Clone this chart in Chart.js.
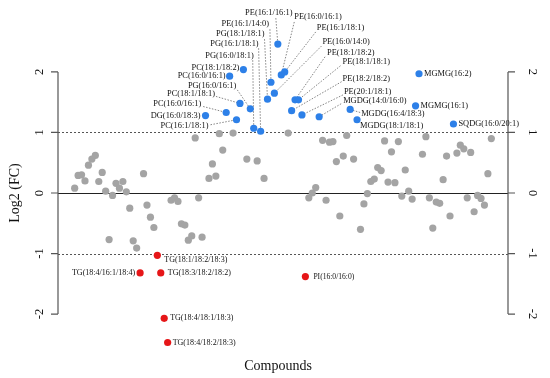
<!DOCTYPE html>
<html>
<head>
<meta charset="utf-8">
<title>Log2 (FC)</title>
<script src="https://cdn.jsdelivr.net/npm/chart.js@4.4.1/dist/chart.umd.min.js"></script>
<style>
    html, body { margin: 0; padding: 0; background: #fff; }
    #wrap { width: 550px; height: 378px; }
</style>
</head>
<body>
<div id="wrap"><canvas id="volcano" width="550" height="378"></canvas></div>
<script>
"use strict";

// log2 fold change per compound, compound 1..122 left to right
const log2fc = [
    0.08, 0.29, 0.30, 0.20, 0.46, 0.56, 0.62, 0.19, 0.34, 0.03,
    -0.77, -0.04, 0.16, 0.08, 0.19, 0.02, -0.25, -0.79, -0.91, -1.32,
    0.32, -0.20, -0.40, -0.57, -1.03, -1.32, -2.07, -2.47, -0.12, -0.08,
    -0.14, -0.51, -0.53, -0.78, -0.71, 0.91, -0.08, -0.73, 1.28, 0.24,
    0.48, 0.28, 0.98, 0.71, 1.33, 1.93, 0.99, 1.21, 1.48, 2.04,
    0.56, 1.39, 1.07, 0.53, 1.02, 0.24, 1.55, 1.83, 1.65, 2.46,
    1.95, 2.00, 0.99, 1.36, 1.54, 1.54, 1.29, -1.38, -0.08, 0.00,
    0.09, 1.26, 0.87, -0.12, 0.84, 0.85, 0.52, -0.38, 0.61, 0.95,
    1.38, 0.56, 1.21, -0.60, -0.18, -0.01, 0.19, 0.23, 0.42, 0.37,
    0.86, 0.18, 0.68, 0.17, 0.85, -0.05, 0.38, 0.03, -0.10, 1.44,
    1.97, 0.64, 0.93, -0.08, -0.58, -0.15, -0.17, 0.22, 0.61, -0.38,
    1.14, 0.66, 0.79, 0.73, -0.08, 0.67, -0.31, -0.04, -0.09, -0.20,
    0.32, 0.90
];

// compounds that get a name in the plot
const labelIdx = [60, 58, 57, 55, 53, 50, 46, 52, 49, 45, 39, 48,
    61, 62, 59, 65, 66, 64, 67, 72, 81, 83, 101, 100, 111,
    25, 20, 26, 68, 27, 28];
const labelNames = [
    "PE(16:1/16:1)", "PE(16:1/14:0)", "PG(18:1/18:1)", "PG(16:1/18:1)", "PG(16:0/18:1)",
    "PC(18:1/18:2)", "PC(16:0/16:1)", "PG(16:0/16:1)", "PC(18:1/18:1)", "PC(16:0/16:1)",
    "DG(16:0/18:3)", "PC(16:1/18:1)",
    "PE(16:0/16:1)", "PE(16:1/18:1)", "PE(16:0/14:0)", "PE(18:1/18:2)", "PE(18:1/18:1)",
    "PE(18:2/18:2)", "PE(20:1/18:1)", "MGDG(14:0/16:0)", "MGDG(16:4/18:3)", "MGDG(18:1/18:1)",
    "MGMG(16:2)", "MGMG(16:1)", "SQDG(16:0/20:1)",
    "TG(18:1/18:2/18:3)", "TG(18:4/16:1/18:4)", "TG(18:3/18:2/18:2)", "PI(16:0/16:0)",
    "TG(18:4/18:1/18:3)", "TG(18:4/18:2/18:3)"
];

const yTicks = [-2, -1, 0, 1, 2];
const thresholds = [-1, 1];
const xTitle = "Compounds";
const yTitle = "Log2 (FC)";

// label placement, pixels from the point: [dx, dy, align, leader dx, leader dy]
const labelLayout = [
    [-9, -31, "center", -2, -26], [-2, -58, "right", -1, -53], [-3, -65, "right", -3, -60],
    [-2, -87, "right", -2, -83], [0, -72, "right", -1, -68], [-4, -2, "right"],
    [-4, 0, "right"], [-14, -23, "right", -13, -19], [-25, -10, "right", -24, -7],
    [-25, -9, "right", -23, -6], [-5, 0, "right"], [-28, 6, "right", -26, 5],
    [13, -58, "left", 13, -53], [32, -44, "left", 31, -40], [48, -51, "left", 47, -47],
    [32, -47, "left", 30, -43], [44, -38, "left", 42, -34], [51, -32, "left", 50, -29],
    [42, -23, "left", 41, -20], [24, -16, "left", 22, -13], [11, 4, "left", 10, 3],
    [3, 6, "left"], [5, 0, "left"], [5, 0, "left"], [5, 0, "left"],
    [7, 5, "left"], [-5, 0, "right"], [7, 0, "left"], [8, 0, "left"],
    [6, 0, "left"], [5, 0, "left"]
];

const BLUE = "rgb(45, 128, 232)";
const RED = "rgb(230, 22, 24)";
const GREY = "rgb(164, 164, 164)";
const SERIF = "'Liberation Serif', 'DejaVu Serif', serif";

const points = log2fc.map((v, i) => ({ x: i + 1, y: v }));
const colours = log2fc.map(v => v > thresholds[1] ? BLUE : (v < thresholds[0] ? RED : GREY));

/**
 * Axes in base-R style, reference lines, titles and compound names.
 */
const volcanoDecor = {
    id: "volcanoDecor",
    beforeDatasetsDraw(chart) {
        const { ctx, chartArea: a, scales: { x, y } } = chart;
        ctx.save();

        // dotted threshold lines
        ctx.strokeStyle = "#555";
        ctx.lineWidth = 1;
        ctx.setLineDash([2, 2]);
        thresholds.forEach(t => {
            const py = Math.round(y.getPixelForValue(t)) + 0.5;
            ctx.beginPath();
            ctx.moveTo(a.left, py);
            ctx.lineTo(a.right, py);
            ctx.stroke();
        });

        // zero line
        ctx.setLineDash([]);
        ctx.strokeStyle = "#222";
        const y0 = Math.round(y.getPixelForValue(0)) + 0.5;
        ctx.beginPath();
        ctx.moveTo(a.left, y0);
        ctx.lineTo(a.right, y0);
        ctx.stroke();

        // leader lines under the dots
        ctx.strokeStyle = "#666";
        ctx.lineWidth = 0.8;
        ctx.setLineDash([1.5, 1.5]);
        labelIdx.forEach((idx, k) => {
            const lay = labelLayout[k];
            if (lay.length < 5) return;
            const px = x.getPixelForValue(idx);
            const py = y.getPixelForValue(log2fc[idx - 1]);
            ctx.beginPath();
            ctx.moveTo(px + lay[3], py + lay[4]);
            ctx.lineTo(px, py);
            ctx.stroke();
        });
        ctx.restore();
    },
    afterDatasetsDraw(chart) {
        const { ctx, chartArea: a, scales: { x, y } } = chart;
        ctx.save();

        // left and right axes, only over the tick range
        const top = y.getPixelForValue(yTicks[yTicks.length - 1]);
        const bottom = y.getPixelForValue(yTicks[0]);
        ctx.strokeStyle = "#555";
        ctx.lineWidth = 1.2;
        ctx.beginPath();
        ctx.moveTo(a.left, top);
        ctx.lineTo(a.left, bottom);
        ctx.moveTo(a.right, top);
        ctx.lineTo(a.right, bottom);
        yTicks.forEach(t => {
            const py = y.getPixelForValue(t);
            ctx.moveTo(a.left - 7, py);
            ctx.lineTo(a.left, py);
            ctx.moveTo(a.right, py);
            ctx.lineTo(a.right + 7, py);
        });
        ctx.stroke();

        ctx.fillStyle = "#111";
        ctx.font = "12.5px " + SERIF;
        ctx.textAlign = "center";
        ctx.textBaseline = "middle";
        yTicks.forEach(t => {
            const py = y.getPixelForValue(t);
            ctx.save();
            ctx.translate(a.left - 18, py);
            ctx.rotate(-Math.PI / 2);
            ctx.fillText(String(t), 0, 0);
            ctx.restore();
            ctx.save();
            ctx.translate(a.right + 24, py);
            ctx.rotate(Math.PI / 2);
            ctx.fillText(String(t), 0, 0);
            ctx.restore();
        });

        // axis titles
        ctx.font = "14px " + SERIF;
        ctx.fillText(xTitle, (a.left + a.right) / 2 - 5, a.bottom + 12);
        ctx.save();
        ctx.translate(15, (a.top + a.bottom) / 2);
        ctx.rotate(-Math.PI / 2);
        ctx.fillText(yTitle, 0, 0);
        ctx.restore();

        // compound names
        labelIdx.forEach((idx, k) => {
            const lay = labelLayout[k];
            const name = labelNames[k];
            const px = x.getPixelForValue(idx);
            const py = y.getPixelForValue(log2fc[idx - 1]);
            const size = name.startsWith("PI") ? 7.6 : (name.startsWith("TG") ? 8 : 8.4);
            ctx.font = size + "px " + SERIF;
            ctx.textAlign = lay[2];
            ctx.fillText(name, px + lay[0], py + lay[1]);
        });
        ctx.restore();
    }
};

const chart = new Chart(document.getElementById("volcano"), {
    type: "scatter",
    data: {
        datasets: [{
            data: points,
            pointBackgroundColor: colours,
            pointBorderWidth: 0,
            pointRadius: 3.6,
            clip: false
        }]
    },
    options: {
        responsive: false,
        animation: false,
        devicePixelRatio: 1,
        layout: { padding: { left: 58, right: 42, top: 32, bottom: 24 } },
        scales: {
            x: { type: "linear", min: -3.84, max: 126.84, display: false },
            y: { type: "linear", min: -2.66, max: 2.66, display: false }
        },
        plugins: {
            legend: { display: false },
            tooltip: { enabled: false }
        }
    },
    plugins: [volcanoDecor]
});
</script>
</body>
</html>
